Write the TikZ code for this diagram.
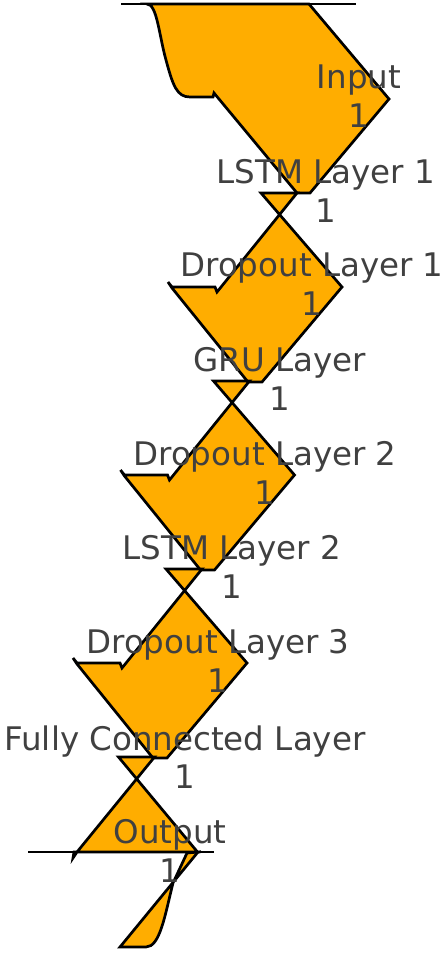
\documentclass[tikz,border=0pt]{standalone}
\usepackage{fontspec}
\setmainfont{DejaVu Sans}
\definecolor{flowfill}{HTML}{FFAD00}
\definecolor{labelgray}{HTML}{404040}
\begin{document}
\begin{tikzpicture}[x=1pt,y=-1pt,
    flow/.style={fill=flowfill,draw=black,line width=2.7pt,line join=miter},
    edge/.style={draw=black,line width=2.7pt},
    lbl/.style={text=labelgray,align=center,font=\fontsize{32.5}{38.5}\selectfont}]
    \useasboundingbox (0,0) rectangle (444,954);

    \draw[flow] (147,4) .. controls (157,4) and (159,35) .. (166,60) .. controls (173,86) and (177,97) .. (190,97) -- (213,97) -- (214,93) -- (297,193) -- (310,193) -- (389,99) -- (309,4) -- cycle;
    \foreach \k in {0,1,2}
        \draw[flow,shift={(-47.5*\k,188*\k)}] (261,193) -- (342,287) -- (262,382) -- (248,382) -- (172,288) -- (168,282) -- (172,287) -- (215,287) -- (217,292) -- (297,193) -- cycle;
    \draw[flow] (118.5,757) -- (197.5,852) -- (74,852) -- (73,858) -- (77,852) -- (154.5,757) -- cycle;
    \draw[flow] (198,852) -- (120,947) -- (146,947) .. controls (160,947) and (165,915) .. (173,883) -- (187,853) -- cycle;

    \draw[edge] (121,4) -- (356,4); \draw[edge] (28,852) -- (214,852);

    \node[lbl] (input) at (359,96) {Input\\1};
    \node[lbl] (lstma) at (326,191) {LSTM Layer 1\\1};
    \node[lbl] (dropa) at (312,284) {Dropout Layer 1\\1};
    \node[lbl] (gru) at (280,379) {GRU Layer\\1};
    \node[lbl] (dropb) at (265,473) {Dropout Layer 2\\1};
    \node[lbl] (lstmb) at (232,567) {LSTM Layer 2\\1};
    \node[lbl] (dropc) at (218,661) {Dropout Layer 3\\1};
    \node[lbl] (fc) at (185,757) {Fully Connected Layer\\1};
    \node[lbl] (output) at (170,851) {Output\\1};
\end{tikzpicture}
\end{document}
